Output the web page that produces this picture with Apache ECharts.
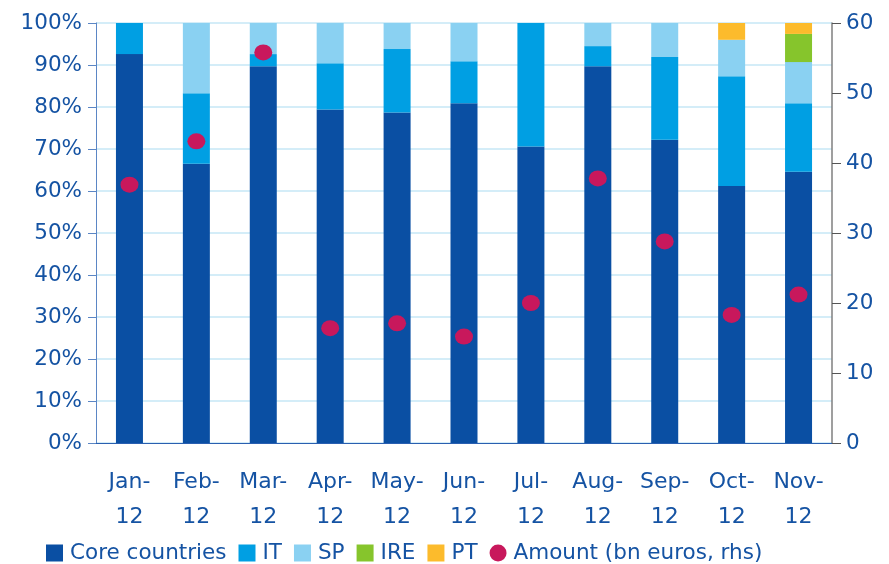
<!DOCTYPE html>
<html>
<head>
<meta charset="utf-8">
<script src="https://cdn.jsdelivr.net/npm/echarts@6/dist/echarts.min.js"></script>
<style>
  html, body { margin: 0; padding: 0; background: #fff; }
  #chart { width: 889px; height: 564px; }
</style>
</head>
<body>
<div id="chart"></div>
<script>
const months = ["Jan-\n12", "Feb-\n12", "Mar-\n12", "Apr-\n12", "May-\n12", "Jun-\n12",
  "Jul-\n12", "Aug-\n12", "Sep-\n12", "Oct-\n12", "Nov-\n12"]

// shares of total, %
const core = [92.6, 66.5, 89.7, 79.4, 78.7, 80.9, 70.6, 89.7, 72.2, 61.2, 64.6]
const it = [7.4, 16.8, 2.9, 11.0, 15.1, 10.0, 29.4, 4.8, 19.7, 26.1, 16.3]
const sp = [0, 16.7, 7.4, 9.6, 6.2, 9.1, 0, 5.5, 8.1, 8.7, 9.8]
const ire = [0, 0, 0, 0, 0, 0, 0, 0, 0, 0, 6.7]
const pt = [0, 0, 0, 0, 0, 0, 0, 0, 0, 4.0, 2.6]
// bn euros, right axis
const amount = [36.9, 43.1, 55.8, 16.4, 17.1, 15.2, 20.0, 37.8, 28.8, 18.3, 21.2]

const textColor = "#1553a3"
const font = "'DejaVu Sans', Verdana, sans-serif"

const chart = echarts.init(document.getElementById("chart"))

function barSeries(name, data, color) {
  return {
    name: name,
    type: "bar",
    stack: "share",
    barWidth: 27,
    data: data,
    itemStyle: { color: color },
    emphasis: { disabled: true },
  }
}

chart.setOption({
  animation: false,
  grid: { left: 96, right: 57, top: 23, bottom: 121 },
  legend: {
    bottom: -5,
    left: 41,
    itemWidth: 17,
    itemHeight: 17,
    itemGap: 12,
    textStyle: { color: textColor, fontFamily: font, fontSize: 21.5, padding: [0, 0, 0, 2] },
    data: [
      { name: "Core countries", icon: "rect" },
      { name: "IT", icon: "rect" },
      { name: "SP", icon: "rect" },
      { name: "IRE", icon: "rect" },
      { name: "PT", icon: "rect" },
      { name: "Amount (bn euros, rhs)", icon: "circle" },
    ],
  },
  xAxis: {
    type: "category",
    data: months,
    axisLine: { lineStyle: { color: "#2a5fb0", width: 1 } },
    axisTick: { length: 10, lineStyle: { color: "#5b86c5" } },
    axisLabel: {
      interval: 0,
      hideOverlap: false,
      color: textColor,
      fontFamily: font,
      fontSize: 22,
      lineHeight: 35,
      margin: 22,
    },
  },
  yAxis: [
    {
      type: "value",
      min: 0,
      max: 100,
      interval: 10,
      axisLine: { show: true, lineStyle: { color: "#5b86c5" } },
      axisTick: { show: true, length: 8, lineStyle: { color: "#5b86c5" } },
      axisLabel: { formatter: "{value}%", color: textColor, fontFamily: font, fontSize: 21.5, margin: 14 },
      splitLine: { lineStyle: { color: "#c6e7f6", width: 1.5 } },
    },
    {
      type: "value",
      min: 0,
      max: 60,
      interval: 10,
      position: "right",
      axisLine: { show: true, lineStyle: { color: "#7f7f7f", width: 1.5 } },
      axisTick: { show: true, length: 9, lineStyle: { color: "#555" } },
      axisLabel: { color: textColor, fontFamily: font, fontSize: 21.5, margin: 14 },
      splitLine: { show: false },
    },
  ],
  series: [
    barSeries("Core countries", core, "#0a4fa3"),
    barSeries("IT", it, "#009fe3"),
    barSeries("SP", sp, "#8ad1f2"),
    barSeries("IRE", ire, "#86c52c"),
    barSeries("PT", pt, "#fcbb2c"),
    {
      name: "Amount (bn euros, rhs)",
      type: "scatter",
      yAxisIndex: 1,
      symbol: "circle",
      symbolSize: [18, 16],
      data: amount,
      itemStyle: { color: "#c8185c", opacity: 1 },
      z: 5,
    },
  ],
})
</script>
</body>
</html>
